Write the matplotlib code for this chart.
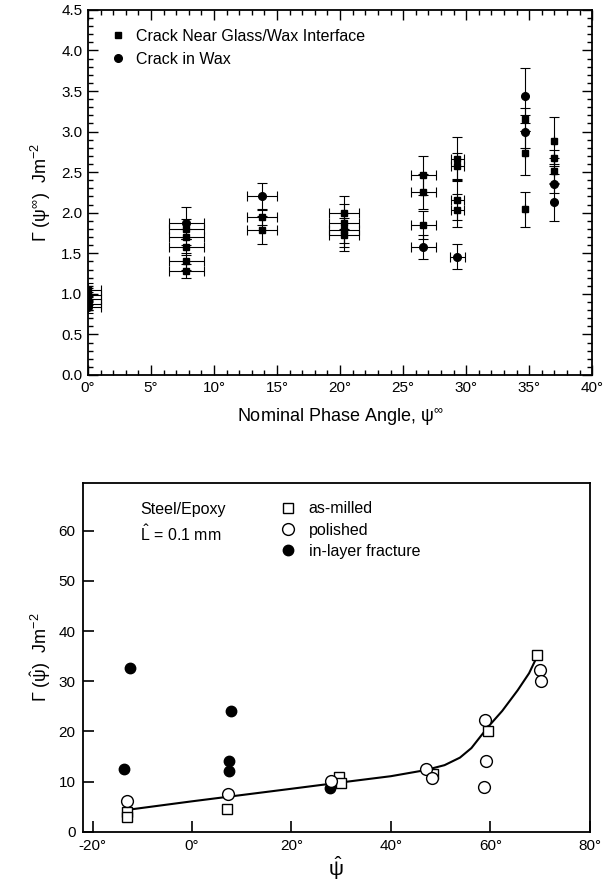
import numpy as np
import matplotlib
matplotlib.use("Agg")
import matplotlib.pyplot as plt
from matplotlib.ticker import MultipleLocator, FormatStrFormatter

plt.rcParams['font.family'] = ['Liberation Sans', 'DejaVu Sans']
plt.rcParams['mathtext.fontset'] = 'custom'
plt.rcParams['mathtext.rm'] = 'Liberation Sans'
plt.rcParams['mathtext.it'] = 'Liberation Sans:italic'
plt.rcParams['mathtext.bf'] = 'Liberation Sans:bold'

# ---- upper panel: glass/wax, toughness vs nominal phase angle ----
# crack near the glass/wax interface (squares)
sq_psi = [0.0, 0.0, 0.0,
          7.8, 7.8, 7.8, 7.8, 7.8,
          13.8, 13.8,
          20.3, 20.3, 20.3, 20.3,
          26.6, 26.6, 26.6,
          29.3, 29.3, 29.3, 29.3,
          34.7, 34.7, 34.7,
          37.0, 37.0, 37.0]
sq_gamma = [1.05, 0.99, 0.94,
            1.80, 1.70, 1.58, 1.40, 1.28,
            1.95, 1.79,
            2.00, 1.87, 1.79, 1.73,
            2.46, 2.26, 1.85,
            2.66, 2.57, 2.16, 2.03,
            3.15, 2.74, 2.04,
            2.89, 2.67, 2.52]
sq_psi_err = [1.0, 1.0, 1.0,
              1.4, 1.4, 1.4, 1.4, 1.4,
              1.2, 1.2,
              1.2, 1.2, 1.2, 1.2,
              1.0, 1.0, 1.0,
              0.5, 0.5, 0.5, 0.5,
              0.0, 0.0, 0.0,
              0.0, 0.0, 0.0]
sq_gamma_err = [0.08, 0.08, 0.08,
                0.12, 0.10, 0.10, 0.10, 0.09,
                0.10, 0.17,
                0.20, 0.24, 0.21, 0.20,
                0.24, 0.22, 0.17,
                0.27, 0.17, 0.25, 0.20,
                0.14, 0.27, 0.21,
                0.29, 0.10, 0.15]

# crack running in the wax (circles)
ci_psi = [0.0, 0.0, 7.8, 13.8, 26.6, 29.3, 34.7, 34.7, 37.0, 37.0]
ci_gamma = [0.88, 0.84, 1.87, 2.20, 1.58, 1.46, 3.44, 3.00, 2.36, 2.13]
ci_psi_err = [1.0, 1.0, 1.4, 1.2, 1.0, 0.6, 0.0, 0.0, 0.0, 0.0]
ci_gamma_err = [0.08, 0.08, 0.20, 0.17, 0.15, 0.15, 0.34, 0.20, 0.12, 0.23]

# ---- lower panel: steel/epoxy, toughness vs local phase angle ----
milled_psi = [-13.0, -13.0, 7.1, 29.5, 30.0, 48.4, 59.5, 69.4]
milled_gamma = [4.0, 3.0, 4.5, 10.9, 9.8, 11.6, 20.0, 35.3]

polished_psi = [-13.0, 7.2, 27.9, 47.1, 48.2, 58.9, 59.1, 58.8, 69.9, 70.2]
polished_gamma = [6.2, 7.6, 10.2, 12.5, 10.8, 22.2, 14.2, 9.0, 32.2, 30.0]

inlayer_psi = [-12.4, -13.6, 7.8, 7.5, 7.5, 27.7]
inlayer_gamma = [32.6, 12.5, 24.0, 14.2, 12.2, 8.8]

fit_psi = [-13.0, 0.0, 20.0, 27.9, 40.0, 46.9, 50.8, 53.9, 56.2, 58.1,
           59.9, 62.4, 65.5, 67.8, 69.4]
fit_gamma = [4.4, 6.1, 8.6, 9.6, 11.1, 12.3, 13.3, 14.8, 16.7, 19.1,
             21.3, 24.1, 28.2, 31.6, 34.9]

fig = plt.figure(figsize=(6.03, 8.86), dpi=100)

# upper panel
ax1 = fig.add_axes([0.146, 0.5768, 0.836, 0.412])
eb_kw = dict(color='black', ecolor='black', elinewidth=0.8, capsize=3.5,
             capthick=0.8, linestyle='none', clip_on=True)
ax1.errorbar(sq_psi, sq_gamma, xerr=sq_psi_err, yerr=sq_gamma_err,
             fmt='s', markersize=5, label='Crack Near Glass/Wax Interface', **eb_kw)
ax1.errorbar(ci_psi, ci_gamma, xerr=ci_psi_err, yerr=ci_gamma_err,
             fmt='o', markersize=5.5, label='Crack in Wax', **eb_kw)
ax1.set_xlim(0, 40)
ax1.set_ylim(0, 4.5)
ax1.xaxis.set_major_locator(MultipleLocator(5))
ax1.xaxis.set_minor_locator(MultipleLocator(1))
ax1.yaxis.set_major_locator(MultipleLocator(0.5))
ax1.yaxis.set_minor_locator(MultipleLocator(0.1))
ax1.xaxis.set_major_formatter(FormatStrFormatter('%d°'))
ax1.yaxis.set_major_formatter(FormatStrFormatter('%.1f'))
ax1.tick_params(which='both', direction='in', top=True, right=True,
                labelsize=11, width=1.0, pad=4)
ax1.tick_params(which='major', length=7)
ax1.tick_params(which='minor', length=3.5)
for s in ax1.spines.values():
    s.set_linewidth(1.3)
ax1.set_xlabel('Nominal Phase Angle, ψ$^{\\infty}$', fontsize=13, labelpad=9)
ax1.set_ylabel('Γ (ψ$^{\\infty}$)  Jm$^{-2}$', fontsize=13, labelpad=6)

h1, l1 = ax1.get_legend_handles_labels()
h1 = [h[0] for h in h1]
ax1.legend(h1, l1, loc='upper left', bbox_to_anchor=(0.025, 0.975),
           frameon=False, fontsize=11.5, handlelength=1.0, handletextpad=0.6,
           labelspacing=0.5, borderaxespad=0.2)

# lower panel
ax2 = fig.add_axes([0.137, 0.061, 0.841, 0.394])
ax2.plot(fit_psi, fit_gamma, color='black', linewidth=1.5, zorder=2)
ax2.plot(milled_psi, milled_gamma, 's', markersize=7.5, markerfacecolor='white',
         markeredgecolor='black', markeredgewidth=1.0, label='as-milled', zorder=3)
ax2.plot(polished_psi, polished_gamma, 'o', markersize=8.5, markerfacecolor='white',
         markeredgecolor='black', markeredgewidth=1.0, label='polished', zorder=4)
ax2.plot(inlayer_psi, inlayer_gamma, 'o', markersize=7.5, color='black',
         label='in-layer fracture', zorder=3)
ax2.set_xlim(-22, 80)
ax2.set_ylim(0, 69.5)
ax2.set_xticks([-20, 0, 20, 40, 60, 80])
ax2.set_yticks([0, 10, 20, 30, 40, 50, 60])
ax2.xaxis.set_major_formatter(FormatStrFormatter('%d°'))
ax2.tick_params(direction='in', length=8, width=1.2, labelsize=11, pad=5)
for s in ax2.spines.values():
    s.set_linewidth(1.3)
ax2.set_xlabel('$\\hat{\\mathrm{ψ}}$', fontsize=15, labelpad=1)
ax2.set_ylabel('Γ ($\\hat{\\mathrm{ψ}}$)  Jm$^{-2}$', fontsize=13, labelpad=4)

ax2.text(0.113, 0.925, 'Steel/Epoxy', transform=ax2.transAxes, fontsize=11.5,
         va='center', ha='left')
ax2.text(0.113, 0.855, '$\\hat{\\mathrm{L}}$ = 0.1 mm', transform=ax2.transAxes,
         fontsize=11.5, va='center', ha='left')
ax2.legend(loc='upper left', bbox_to_anchor=(0.37, 0.975), frameon=False,
           fontsize=11.5, handlelength=1.0, handletextpad=0.8, labelspacing=0.4,
           borderaxespad=0.2, numpoints=1)

fig.savefig('out.png', dpi=100)
